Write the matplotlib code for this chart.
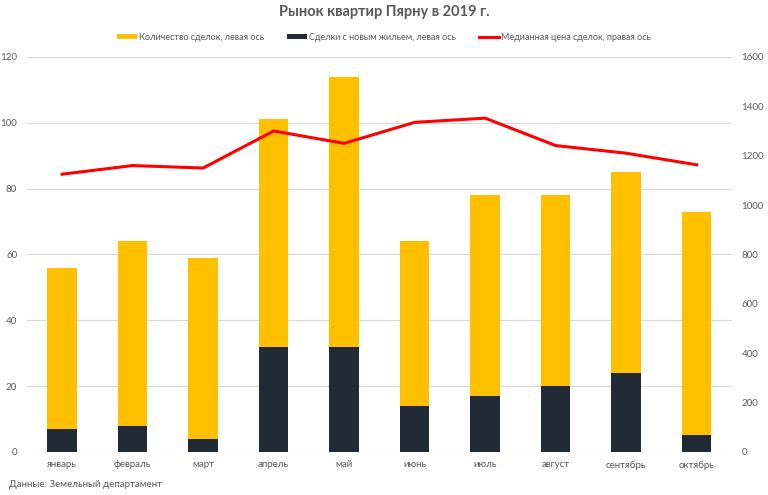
import matplotlib
matplotlib.use('Agg')
import matplotlib.pyplot as plt
import numpy as np

plt.rcParams['font.family'] = ['Lato', 'DejaVu Sans']

months = ['январь', 'февраль', 'март', 'апрель', 'май', 'июнь', 'июль', 'август', 'сентябрь', 'октябрь']
total_deals = [56, 64, 59, 101, 114, 64, 78, 78, 85, 73]
new_deals = [7, 8, 4, 32, 32, 14, 17, 20, 24, 5]
median_price = [1125, 1160, 1150, 1300, 1250, 1335, 1352, 1241, 1210, 1163]

yellow = '#FFC000'
dark = '#222A35'
red = '#FF0000'
grey = '#595959'

fig = plt.figure(figsize=(7.68, 4.95), dpi=100)
ax = fig.add_axes([0.035, 0.087, 0.918, 0.798])
ax2 = ax.twinx()

x = np.arange(len(months))
w = 0.42
ax.bar(x, total_deals, w, color=yellow, label='Количество сделок, левая ось', zorder=2)
ax.bar(x, new_deals, w, color=dark, label='Сделки с новым жильем, левая ось', zorder=3)
ax2.plot(x, median_price, color=red, lw=2.2, label='Медианная цена сделок, правая ось')

ax.set_ylim(0, 120)
ax.set_yticks(range(0, 121, 20))
ax2.set_ylim(0, 1600)
ax2.set_yticks(range(0, 1601, 200))
ax.set_xlim(-0.5, len(months) - 0.5)
ax.set_xticks(x)
ax.set_xticklabels(months)

ax.grid(axis='y', color='#D9D9D9', lw=0.8, zorder=0)
ax.set_axisbelow(True)
for a in (ax, ax2):
    for s in a.spines.values():
        s.set_visible(False)
    a.tick_params(length=0, colors=grey, labelsize=7)
ax.tick_params(axis='x', pad=6)
ax.tick_params(axis='y', pad=7)
ax2.tick_params(axis='y', pad=7)

fig.text(0.5, 0.975, 'Рынок квартир Пярну в 2019 г.', ha='center', va='center',
         fontsize=10.5, fontweight='bold', color=grey)

h1, l1 = ax.get_legend_handles_labels()
h2, l2 = ax2.get_legend_handles_labels()
fig.legend(h1 + h2, l1 + l2, loc='center', bbox_to_anchor=(0.5, 0.925), ncol=3,
           frameon=False, fontsize=6.5, labelcolor=grey, handlelength=2.2,
           handleheight=0.5, columnspacing=2.5, handletextpad=0.3)

fig.text(0.012, 0.022, 'Данные: Земельный департамент', fontsize=7, color=grey, va='center')

fig.savefig('out.png', dpi=100)
